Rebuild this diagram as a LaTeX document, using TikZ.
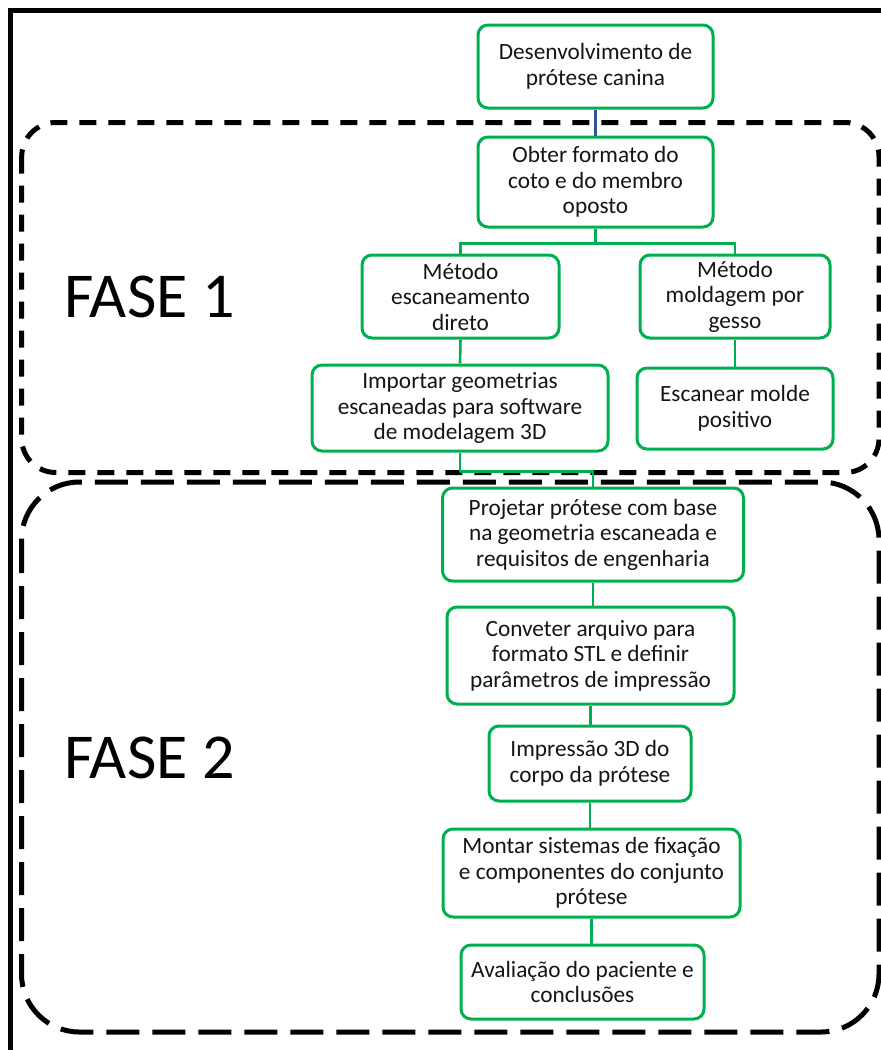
\documentclass[tikz,border=0pt]{standalone}
\usepackage{fontspec}
\setmainfont{Carlito}
\definecolor{boxgreen}{HTML}{00B050}
\definecolor{connblue}{HTML}{2F5597}
\definecolor{txt}{HTML}{151515}
\tikzset{
  stepbox/.style={draw=boxgreen, line width=3pt, rounded corners=10pt, fill=white,
    align=center, inner sep=0pt, text=txt,
    font=\fontsize{23.3}{25.5}\selectfont},
  conn/.style={draw=boxgreen, line width=2.6pt},
  phaseone/.style={draw=black, line width=5pt, dash pattern=on 17pt off 12pt, rounded corners=34pt},
  phasetwo/.style={draw=black, line width=5pt, dash pattern=on 33pt off 13pt, rounded corners=58pt},
  phaselabel/.style={font=\fontsize{64}{70}\selectfont, anchor=base west, inner sep=0pt, text=black}
}
\begin{document}
\begin{tikzpicture}[x=1pt,y=-1pt]
\useasboundingbox (0,0) rectangle (881,1050);
\clip (0,0) rectangle (881,1050);
\fill[white] (0,0) rectangle (881,1050);
% outer frame (cropped)
\draw[line width=4.5pt] (10.7,10.7) rectangle (920,1100);
% phase frames
\draw[phaseone] (21.7,122.5) rectangle (879,472.5);
\draw[phasetwo] (21.5,482) rectangle (879,1032);
\node[phaselabel] (f1) at (64,317) {FASE 1};
\node[phaselabel] (f2) at (64,778) {FASE 2};
% boxes
\node[stepbox, minimum width=235pt, minimum height=83pt] (des) at (595.5,66.5) {Desenvolvimento de\\prótese canina};
\node[stepbox, minimum width=235pt, minimum height=90pt] (obt) at (595.5,182) {Obter formato do\\coto e do membro\\oposto};
\node[stepbox, minimum width=197pt, minimum height=83pt] (me1) at (460.5,296.5) {Método\\escaneamento\\direto};
\node[stepbox, minimum width=190pt, minimum height=83pt] (me2) at (735,296.5) {Método\\moldagem por\\gesso};
\node[stepbox, minimum width=296pt, minimum height=86pt] (imp) at (460,408) {Importar geometrias\\escaneadas para software\\de modelagem 3D};
\node[stepbox, minimum width=196pt, minimum height=81pt] (esc) at (735,408.5) {Escanear molde\\positivo};
\node[stepbox, minimum width=301pt, minimum height=93pt] (pro) at (593,534.5) {Projetar prótese com base\\na geometria escaneada e\\requisitos de engenharia};
\node[stepbox, minimum width=287pt, minimum height=97pt] (con) at (590.5,655.5) {Conveter arquivo para\\formato STL e definir\\parâmetros de impressão};
\node[stepbox, minimum width=202pt, minimum height=75pt] (imp3) at (590,763.5) {Impressão 3D do\\corpo da prótese};
\node[stepbox, minimum width=297pt, minimum height=88pt] (mon) at (591.5,873) {Montar sistemas de fixação\\e componentes do conjunto\\prótese};
\node[stepbox, minimum width=243pt, minimum height=74pt] (ava) at (582.5,982) {Avaliação do paciente e\\conclusões};
% connectors
\draw[draw=connblue, line width=2.2pt] (des.south) -- (obt.north);
\draw[conn] (obt.south) -- ++(0,15) coordinate (j1);
\draw[conn] (me1.north) |- (j1) -| (me2.north);
\draw[conn] (me1.south) -- (imp.north);
\draw[conn] (me2.south) -- (esc.north);
\draw[conn] (imp.south) -- ++(0,19) coordinate (j2);
\draw[conn] (j2) -| (pro.north);
\draw[conn] (pro.south) -- (pro.south |- con.north);
\draw[conn] (con.south) -- (con.south |- imp3.north);
\draw[conn] (imp3.south) -- (imp3.south |- mon.north);
\draw[conn] (mon.south) -- (mon.south |- ava.north);
\end{tikzpicture}
\end{document}
